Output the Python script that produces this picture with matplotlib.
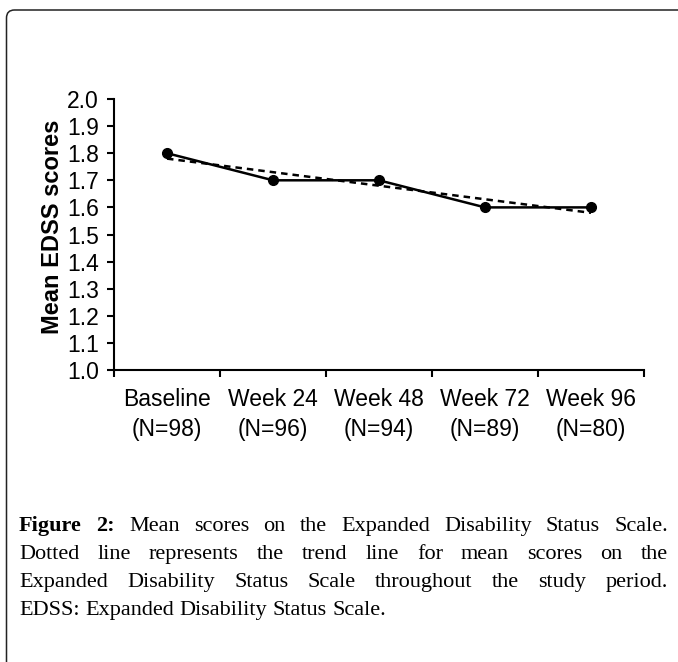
import numpy as np
import matplotlib
matplotlib.use("Agg")
import matplotlib.pyplot as plt
from matplotlib.patches import FancyBboxPatch
from matplotlib.transforms import IdentityTransform

# chart data
categories = ["Baseline", "Week 24", "Week 48", "Week 72", "Week 96"]
n_values = [98, 96, 94, 89, 80]
mean_edss = [1.8, 1.7, 1.7, 1.6, 1.6]
y_ticks = [1.0, 1.1, 1.2, 1.3, 1.4, 1.5, 1.6, 1.7, 1.8, 1.9, 2.0]

caption_lines = [
    "Figure 2: Mean scores on the Expanded Disability Status Scale.",
    "Dotted line represents the trend line for mean scores on the",
    "Expanded Disability Status Scale throughout the study period.",
    "EDSS: Expanded Disability Status Scale.",
]
bold_words = ["Figure", "2:"]

W, H, DPI = 678, 662, 100


def draw_caption(fig, lines, left=19, right=668, first_baseline=531, step=28, size=16):
    renderer = fig.canvas.get_renderer()
    for i, line in enumerate(lines):
        y = 1 - (first_baseline + i * step) / H
        words = line.split()
        texts = []
        for w in words:
            weight = "bold" if (i == 0 and w in bold_words) else "normal"
            t = fig.text(0, y, w, fontsize=size, family="Liberation Serif",
                         fontweight=weight, va="baseline", ha="left")
            texts.append(t)
        widths = [t.get_window_extent(renderer).width for t in texts]
        space = size * DPI / 72 * 0.25
        if i < len(lines) - 1:
            # justified line
            space = (right - left - sum(widths)) / (len(words) - 1)
        x = left
        for t, wd in zip(texts, widths):
            t.set_x(x / W)
            x += wd + space


fig = plt.figure(figsize=(W / DPI, H / DPI), dpi=DPI)
ax = fig.add_axes([114 / W, 1 - 370 / H, 530 / W, 271 / H])

x = np.arange(len(categories))
ax.plot(x, mean_edss, color="black", lw=1.8, marker="o", markersize=7, zorder=3)

# linear trend line
slope, intercept = np.polyfit(x, mean_edss, 1)
ax.plot(x, slope * x + intercept, color="black", lw=1.8, linestyle=(0, (2.6, 2.0)), zorder=2)

ax.set_xlim(-0.5, len(categories) - 0.5)
ax.set_ylim(1.0, 2.0)
ax.set_yticks(y_ticks)
ax.set_yticklabels([f"{v:.1f}" for v in y_ticks])

# ticks at category boundaries, labels in the middle
ax.set_xticks(np.arange(-0.5, len(categories), 1.0))
ax.set_xticklabels([])
ax.set_xticks(x, minor=True)
ax.set_xticklabels([f"{c}\n(N={n})" for c, n in zip(categories, n_values)], minor=True,
                   linespacing=1.4)
ax.tick_params(axis="x", which="minor", length=0, pad=13, labelsize=16.5)
ax.tick_params(axis="x", which="major", length=5, width=1.5, direction="out")
ax.tick_params(axis="y", length=5, width=1.5, direction="out", pad=6, labelsize=16.5)
for lab in ax.get_xticklabels(minor=True) + ax.get_yticklabels():
    lab.set_family("Liberation Sans")

for side in ["top", "right"]:
    ax.spines[side].set_visible(False)
for side in ["left", "bottom"]:
    ax.spines[side].set_linewidth(1.5)

ax.set_ylabel("Mean EDSS scores", fontsize=17, fontweight="bold", family="Liberation Sans")
ax.yaxis.set_label_coords(-0.094, 0.53)

# rounded frame around the figure panel
frame = FancyBboxPatch((6.5, -40), 685, H + 30, boxstyle="round,pad=0,rounding_size=8",
                       transform=IdentityTransform(), fill=False, edgecolor="#222222", lw=1.1)
fig.add_artist(frame)

draw_caption(fig, caption_lines)

fig.savefig("out.png", dpi=DPI)
